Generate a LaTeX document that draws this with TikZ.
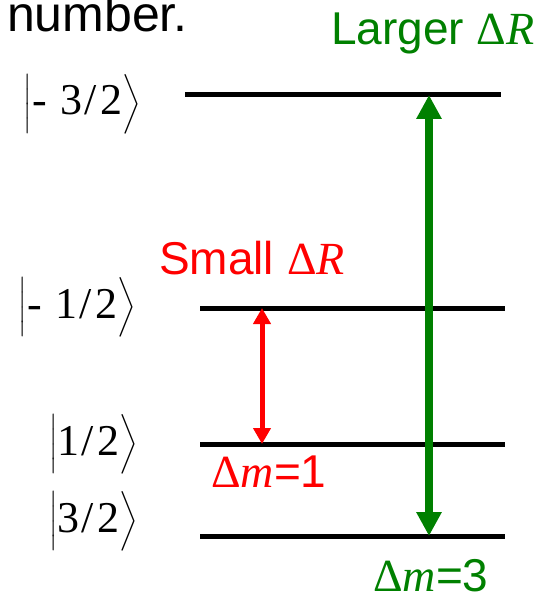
\RequirePackage{fix-cm}
\documentclass[tikz,border=0pt]{standalone}
\usepackage{exscale}
\usepackage{fontspec}
\setmainfont{Liberation Sans}
\newfontfamily\timesfont{Liberation Serif}
\usetikzlibrary{arrows.meta}
\definecolor{lvlgreen}{RGB}{0,128,0}
\definecolor{lvlred}{RGB}{255,0,0}
\newcommand{\ketlabel}[1]{$\left|\vrule height 38pt depth 15pt width 0pt\mbox{\timesfont #1}\right\rangle$}
\newcommand{\frc}[2]{#1\hspace{2pt}/\hspace{3pt}#2}
\newcommand{\dR}{{\timesfont Δ\textit{R}}}
\newcommand{\dm}{{\timesfont Δ\textit{m}}}

\begin{document}
\begin{tikzpicture}[x=1pt, y=-1pt,
  level/.style={line width=5pt, black},
  ket/.style={anchor=base east, inner sep=0pt, font=\fontsize{44}{48}\selectfont},
  label/.style={anchor=base west, inner sep=0pt, font=\fontsize{46}{50}\selectfont},
  bigarrow/.style={line width=7.5pt, color=lvlgreen,
                   {Triangle[width=24pt,length=24pt]}-{Triangle[width=24pt,length=24pt]}},
  smallarrow/.style={line width=5pt, color=lvlred,
                     {Triangle[width=17pt,length=16pt]}-{Triangle[width=17pt,length=16pt]}},
]
  \useasboundingbox (0,0) rectangle (549,596);

  % Levels
  \coordinate (a1) at (185,95);  \coordinate (a2) at (501,95);
  \coordinate (b1) at (200,308); \coordinate (b2) at (505,308);
  \coordinate (c1) at (200,444); \coordinate (c2) at (505,444);
  \coordinate (d1) at (200,536); \coordinate (d2) at (505,536);
  \draw[level] (a1) -- (a2);
  \draw[level] (b1) -- (b2);
  \draw[level] (c1) -- (c2);
  \draw[level] (d1) -- (d2);

  % Level labels
  \node[ket] (ka) at (141,115) {\ketlabel{-\hspace{14pt}\frc{3}{2}}};
  \node[ket] (kb) at (136,318) {\ketlabel{-\hspace{14pt}\frc{1}{2}}};
  \node[ket] (kc) at (138,455) {\ketlabel{\frc{1}{2}}};
  \node[ket] (kd) at (138,532) {\ketlabel{\frc{3}{2}}};

  % Transitions
  \coordinate (gtop) at (429,95);  \coordinate (gbot) at (429,536);
  \coordinate (rtop) at (262,308); \coordinate (rbot) at (262,444);
  \draw[bigarrow] (gtop) -- (gbot);
  \draw[smallarrow] (rtop) -- (rbot);

  % Texts
  \node[label, anchor=base east, font=\fontsize{50}{54}\selectfont] (head) at (188,32) {number.};
  \node[label, text=lvlgreen] (large) at (331,45) {Larger \dR};
  \node[label, text=lvlred] (small) at (159,274) {Small \dR};
  \node[label, text=lvlred] (dm1) at (211,487) {\dm=1};
  \node[label, text=lvlgreen] (dm3) at (373,591) {\dm=3};
\end{tikzpicture}
\end{document}
